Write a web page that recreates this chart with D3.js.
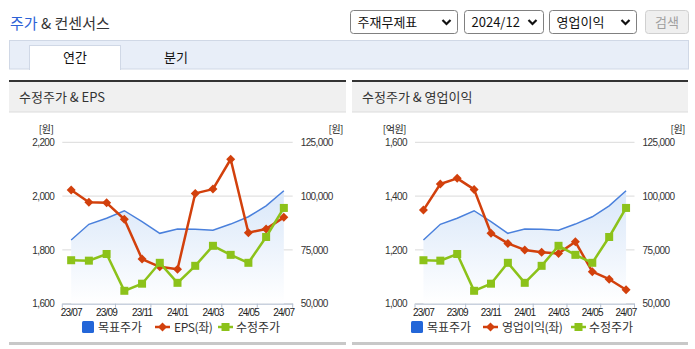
<!DOCTYPE html>
<html><head><meta charset="utf-8">
<script src="https://cdn.jsdelivr.net/npm/d3@7/dist/d3.min.js"></script>
<style>
html,body{margin:0;padding:0;background:#fff;}
svg{display:block;font-family:"Noto Sans CJK KR","Liberation Sans",sans-serif;}
</style></head>
<body>
<svg id="c" width="695" height="349"></svg>
<script>
// ---- data ----
const months = ["23/07","23/08","23/09","23/10","23/11","23/12","24/01","24/02","24/03","24/04","24/05","24/06","24/07"];
const tickLabels = ["23/07","23/09","23/11","24/01","24/03","24/05","24/07"];
const targetPrice = [79600, 86900, 89700, 93200, 88100, 82700, 84700, 84600, 84100, 87000, 90400, 95500, 102500];
const adjPrice = [70200, 70000, 73100, 56000, 59300, 69000, 59700, 67600, 76900, 72700, 69000, 81000, 94500];
const eps = [2023, 1977, 1975, 1914, 1766, 1737, 1728, 2010, 2026, 2137, 1864, 1878, 1921];
const opIncome = [1348, 1445, 1466, 1425, 1262, 1224, 1200, 1191, 1187, 1230, 1119, 1091, 1052];
const epsTicks = [1600, 1800, 2000, 2200];
const opTicks = [1000, 1200, 1400, 1600];
const priceTicks = [50000, 75000, 100000, 125000];

const svg = d3.select("#c");
const fmt = d3.format(",");

// ---- top title ----
const title = svg.append("text").attr("x", 10).attr("y", 29).attr("font-size", 15);
title.append("tspan").attr("fill", "#2d62d6").text("주가");
title.append("tspan").attr("fill", "#333").text(" & 컨센서스");

// selects
const selects = [
  {x:350.5, w:107, t:"주재무제표"},
  {x:464.5, w:79, t:"2024/12"},
  {x:549.5, w:87, t:"영업이익"}
];
selects.forEach(s => {
  svg.append("rect").attr("x", s.x).attr("y", 10.5).attr("width", s.w).attr("height", 23)
    .attr("rx", 3).attr("fill", "#fff").attr("stroke", "#808080");
  svg.append("text").attr("x", s.x + 7).attr("y", 27).attr("font-size", 13).attr("fill", "#111").text(s.t);
  const cx = s.x + s.w - 11;
  svg.append("path").attr("d", `M${cx-4},${20} L${cx},${24} L${cx+4},${20}`)
    .attr("fill", "none").attr("stroke", "#111").attr("stroke-width", 2.2);
});
svg.append("rect").attr("x", 645.5).attr("y", 10.5).attr("width", 43).attr("height", 23).attr("rx", 3)
  .attr("fill", "#efefef").attr("stroke", "#d0d0d0");
svg.append("text").attr("x", 667).attr("y", 27).attr("text-anchor", "middle").attr("font-size", 13)
  .attr("fill", "#a0a0a0").text("검색");

// tabs
svg.append("rect").attr("x", 9.5).attr("y", 40.5).attr("width", 679).attr("height", 28.5)
  .attr("fill", "#e8eef8").attr("stroke", "#d0d8e6");
svg.append("rect").attr("x", 29.5).attr("y", 45.5).attr("width", 91).attr("height", 24)
  .attr("fill", "#fff").attr("stroke", "#d0d8e6");
svg.append("rect").attr("x", 30).attr("y", 68).attr("width", 90).attr("height", 2).attr("fill", "#fff");
svg.append("text").attr("x", 75).attr("y", 62).attr("text-anchor", "middle").attr("font-size", 13).attr("fill", "#111").text("연간");
svg.append("text").attr("x", 176).attr("y", 62).attr("text-anchor", "middle").attr("font-size", 13).attr("fill", "#111").text("분기");

// gradient
const defs = svg.append("defs");
const grad = defs.append("linearGradient").attr("id", "areaGrad").attr("x1", 0).attr("y1", 0).attr("x2", 0).attr("y2", 1);
grad.append("stop").attr("offset", "0%").attr("stop-color", "#d9e7f9");
grad.append("stop").attr("offset", "100%").attr("stop-color", "#ffffff");

const RED = "#d2400c", GREEN = "#8cc21a", BLUE = "#4a80dc", LEGBLUE = "#2366d8";

const panels = [
  {x0:9, x1:346, title:"수정주가 & EPS", plotL:62.3, plotR:292.7, left:eps, leftDom:[1600,2200], leftTicks:epsTicks,
   leftUnit:"[원]",
   legend:[{x:82, t:"목표주가"}, {x:155, t:"EPS(좌)"}, {x:218, t:"수정주가"}]},
  {x0:352, x1:688, title:"수정주가 & 영업이익", plotL:415, plotR:634.5, left:opIncome, leftDom:[1000,1600], leftTicks:opTicks,
   leftUnit:"[억원]",
   legend:[{x:411, t:"목표주가"}, {x:483, t:"영업이익(좌)"}, {x:571, t:"수정주가"}]}
];

const yTop = 142.3, yBot = 303.7;

panels.forEach(p => {
  const g = svg.append("g");
  // header
  g.append("rect").attr("x", p.x0).attr("y", 80).attr("width", p.x1 - p.x0).attr("height", 2).attr("fill", "#333");
  g.append("rect").attr("x", p.x0).attr("y", 82).attr("width", p.x1 - p.x0).attr("height", 30).attr("fill", "#f0f0f0");
  g.append("rect").attr("x", p.x0).attr("y", 111.5).attr("width", p.x1 - p.x0).attr("height", 1).attr("fill", "#dcdcdc");
  g.append("text").attr("x", p.x0 + 10).attr("y", 102).attr("font-size", 13).attr("fill", "#333").text(p.title);
  // bottom bar
  g.append("rect").attr("x", p.x0).attr("y", 342).attr("width", p.x1 - p.x0).attr("height", 3).attr("fill", "#c8c8c8");

  const x = d3.scaleBand().domain(months).range([p.plotL, p.plotR]).padding(0);
  const cx = d => x(d) + x.bandwidth() / 2;
  const yL = d3.scaleLinear().domain(p.leftDom).range([yBot, yTop]);
  const yR = d3.scaleLinear().domain([50000, 125000]).range([yBot, yTop]);

  // gridlines
  g.append("g").selectAll("line").data(p.leftTicks).join("line")
    .attr("x1", p.plotL).attr("x2", p.plotR).attr("y1", d => yL(d)).attr("y2", d => yL(d))
    .attr("stroke", "#dadada").attr("stroke-width", 1);

  // left axis labels
  const axL = d3.axisLeft(yL).tickValues(p.leftTicks).tickFormat(fmt).tickSize(0).tickPadding(8);
  const gl = g.append("g").attr("transform", `translate(${p.plotL},0)`).call(axL);
  gl.select(".domain").remove();
  gl.selectAll("text").attr("font-size", 10).attr("fill", "#333").attr("letter-spacing", "-0.6")
    .attr("font-family", "Liberation Sans, sans-serif");
  const axR = d3.axisRight(yR).tickValues(priceTicks).tickFormat(fmt).tickSize(0).tickPadding(8);
  const gr = g.append("g").attr("transform", `translate(${p.plotR},0)`).call(axR);
  gr.select(".domain").remove();
  gr.selectAll("text").attr("font-size", 10).attr("fill", "#333").attr("letter-spacing", "-0.6")
    .attr("font-family", "Liberation Sans, sans-serif");
  // units
  g.append("text").attr("x", p.plotL - 9).attr("y", 132.5).attr("text-anchor", "end").attr("font-size", 10)
    .attr("fill", "#222").attr("letter-spacing", "-0.5").text(p.leftUnit);
  g.append("text").attr("x", p.x1 - 3).attr("y", 132.5).attr("text-anchor", "end").attr("font-size", 10)
    .attr("fill", "#222").attr("letter-spacing", "-0.5").text("[원]");

  // area + target line
  const area = d3.area().x((d, i) => cx(months[i])).y0(yBot).y1(d => yR(d));
  g.append("path").datum(targetPrice).attr("d", area).attr("fill", "url(#areaGrad)");
  const lineT = d3.line().x((d, i) => cx(months[i])).y(d => yR(d));
  g.append("path").datum(targetPrice).attr("d", lineT).attr("fill", "none").attr("stroke", BLUE).attr("stroke-width", 1.5);

  // x axis
  const axB = d3.axisBottom(x).tickValues(tickLabels).tickSize(0).tickPadding(5);
  const gb = g.append("g").attr("transform", `translate(0,${yBot})`).call(axB);
  gb.select(".domain").attr("stroke", "#b4c0d2");
  gb.selectAll("text").attr("font-size", 10).attr("fill", "#222").attr("letter-spacing", "-0.8")
    .attr("font-family", "Liberation Sans, sans-serif");
  const bounds = [x(months[0]), x(months[3]), x(months[5]), x(months[7]), x(months[9]), x(months[11]), x(months[12]) + x.bandwidth()];
  g.append("g").selectAll("line").data(bounds).join("line")
    .attr("x1", d => d).attr("x2", d => d).attr("y1", yBot).attr("y2", yBot + 4)
    .attr("stroke", "#b4c0d2");

  // red line (left axis)
  const lineL = d3.line().x((d, i) => cx(months[i])).y(d => yL(d));
  g.append("path").datum(p.left).attr("d", lineL).attr("fill", "none").attr("stroke", RED).attr("stroke-width", 2.5)
    .attr("stroke-linejoin", "round");
  g.append("g").selectAll("path").data(p.left).join("path")
    .attr("d", (d, i) => { const px = cx(months[i]), py = yL(d); return `M${px},${py-4.5}L${px+4.5},${py}L${px},${py+4.5}L${px-4.5},${py}Z`; })
    .attr("fill", RED);

  // green line (right axis)
  const lineG = d3.line().x((d, i) => cx(months[i])).y(d => yR(d));
  g.append("path").datum(adjPrice).attr("d", lineG).attr("fill", "none").attr("stroke", GREEN).attr("stroke-width", 2.5);
  g.append("g").selectAll("rect").data(adjPrice).join("rect")
    .attr("x", (d, i) => cx(months[i]) - 4).attr("y", d => yR(d) - 4).attr("width", 8).attr("height", 8)
    .attr("fill", GREEN);

  // legend
  const ly = 327;
  const L = p.legend;
  const fs = 12;
  g.append("rect").attr("x", L[0].x).attr("y", ly - 6).attr("width", 12).attr("height", 12).attr("rx", 1.5).attr("fill", LEGBLUE);
  g.append("text").attr("x", L[0].x + 16).attr("y", ly + 4.5).attr("font-size", fs).attr("fill", "#333").text(L[0].t);
  g.append("line").attr("x1", L[1].x).attr("x2", L[1].x + 15).attr("y1", ly).attr("y2", ly).attr("stroke", RED).attr("stroke-width", 2.5);
  g.append("path").attr("d", `M${L[1].x+7.5},${ly-4.5}L${L[1].x+12},${ly}L${L[1].x+7.5},${ly+4.5}L${L[1].x+3},${ly}Z`).attr("fill", RED);
  g.append("text").attr("x", L[1].x + 19).attr("y", ly + 4.5).attr("font-size", fs).attr("fill", "#333")
    .attr("letter-spacing", "-0.4").text(L[1].t);
  g.append("line").attr("x1", L[2].x).attr("x2", L[2].x + 15).attr("y1", ly).attr("y2", ly).attr("stroke", GREEN).attr("stroke-width", 2.5);
  g.append("rect").attr("x", L[2].x + 3.5).attr("y", ly - 4).attr("width", 8).attr("height", 8).attr("fill", GREEN);
  g.append("text").attr("x", L[2].x + 18).attr("y", ly + 4.5).attr("font-size", fs).attr("fill", "#333").text(L[2].t);
});
</script>
</body></html>
